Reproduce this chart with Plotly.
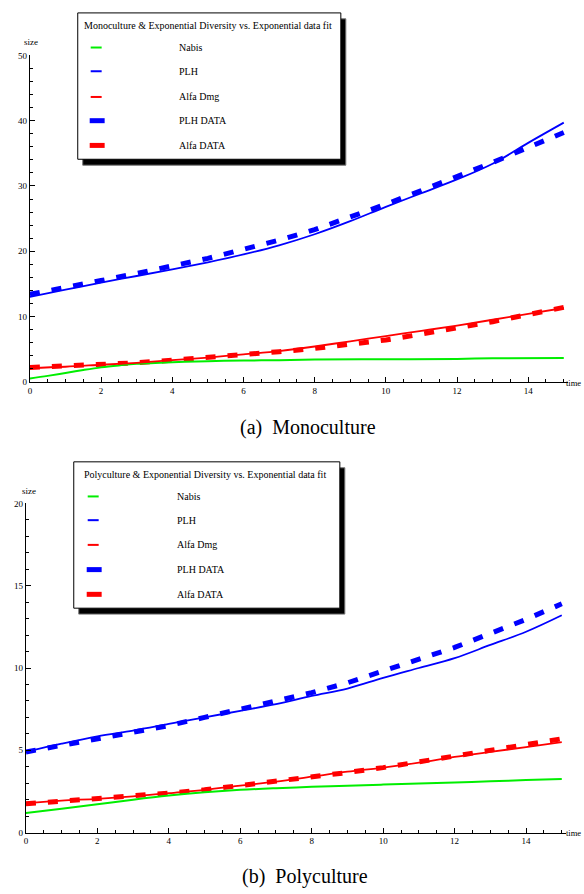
import plotly.graph_objects as go

W, H = 584, 894

# ---------------- data ----------------
t = list(range(16))

# (a) Monoculture
mono_nabis_t = [0, 0.5, 1, 1.5, 2, 2.5, 3, 4, 5, 6, 7, 8, 10, 12, 13, 15]
mono_nabis = [0.5, 0.9, 1.35, 1.8, 2.2, 2.5, 2.75, 3.0, 3.15, 3.25, 3.3, 3.4, 3.45, 3.5, 3.6, 3.65]
mono_plh_fit = [13.0, 14.1, 15.2, 16.2, 17.2, 18.3, 19.5, 20.9, 22.6, 24.6, 26.8, 28.9, 31.0, 33.4, 36.6, 39.7]
mono_alfa_fit = [2.1, 2.3, 2.6, 2.9, 3.3, 3.7, 4.2, 4.7, 5.4, 6.2, 7.0, 7.8, 8.6, 9.5, 10.4, 11.3]
mono_plh_data = [13.4, 14.4, 15.5, 16.6, 17.7, 18.9, 20.3, 21.7, 23.3, 25.2, 27.2, 29.3, 31.4, 33.6, 35.9, 38.2]
mono_alfa_data = [2.2, 2.4, 2.6, 2.9, 3.3, 3.7, 4.1, 4.6, 5.1, 5.7, 6.4, 7.3, 8.2, 9.2, 10.3, 11.4]

# (b) Polyculture
poly_nabis = [1.2, 1.45, 1.72, 2.0, 2.25, 2.45, 2.6, 2.7, 2.78, 2.85, 2.92, 2.99, 3.05, 3.12, 3.19, 3.26]
poly_plh_fit = [4.9, 5.4, 5.85, 6.2, 6.6, 7.0, 7.4, 7.8, 8.3, 8.75, 9.4, 10.0, 10.6, 11.4, 12.2, 13.2]
poly_alfa_fit = [1.8, 1.95, 2.05, 2.2, 2.4, 2.6, 2.85, 3.1, 3.4, 3.7, 3.95, 4.25, 4.6, 4.9, 5.2, 5.5]
poly_plh_data = [4.9, 5.3, 5.7, 6.1, 6.5, 7.0, 7.5, 8.0, 8.5, 9.1, 9.8, 10.5, 11.25, 12.1, 12.95, 13.9]
poly_alfa_data = [1.75, 1.9, 2.05, 2.2, 2.4, 2.6, 2.85, 3.1, 3.35, 3.65, 3.95, 4.3, 4.65, 5.0, 5.3, 5.7]

legend_names = ["Nabis", "PLH", "Alfa Dmg", "PLH DATA", "Alfa DATA"]
titles = ["Monoculture & Exponential Diversity vs. Exponential data fit",
          "Polyculture & Exponential Diversity vs. Exponential data fit"]
captions = ["(a)  Monoculture", "(b)  Polyculture"]
x_ticks = [0, 2, 4, 6, 8, 10, 12, 14]

GREEN = "#00ee00"
BLUE = "#0000ff"
RED = "#ff0000"
SERIF = "Liberation Serif, DejaVu Serif, Times New Roman, serif"

fig = go.Figure()

def add_panel(xa, ya, nabis_t, nabis, plh_fit, alfa_fit, plh_data, alfa_data):
    kw = dict(xaxis=xa, yaxis=ya, mode="lines", showlegend=False, hoverinfo="skip")
    fig.add_trace(go.Scatter(x=t, y=plh_data, line=dict(color=BLUE, width=5, dash="10px,12px"), **kw))
    fig.add_trace(go.Scatter(x=t, y=alfa_data, line=dict(color=RED, width=5, dash="10px,12px"), **kw))
    fig.add_trace(go.Scatter(x=nabis_t, y=nabis, line=dict(color=GREEN, width=2, shape="spline"), **kw))
    fig.add_trace(go.Scatter(x=t, y=plh_fit, line=dict(color=BLUE, width=1.8, shape="spline"), **kw))
    fig.add_trace(go.Scatter(x=t, y=alfa_fit, line=dict(color=RED, width=1.8, shape="spline"), **kw))

add_panel("x", "y", mono_nabis_t, mono_nabis, mono_plh_fit, mono_alfa_fit, mono_plh_data, mono_alfa_data)
add_panel("x2", "y2", t, poly_nabis, poly_plh_fit, poly_alfa_fit, poly_plh_data, poly_alfa_data)

def px(x):
    return x / W

def py(y):
    return 1 - y / H

tickfont = dict(family=SERIF, size=9, color="black")
axis_common = dict(showline=True, linecolor="black", linewidth=1, ticks="inside",
                   tickcolor="black", ticklen=5, showgrid=False, zeroline=False,
                   tickfont=tickfont)

fig.update_layout(
    width=W, height=H, autosize=False,
    margin=dict(l=0, r=0, t=0, b=0),
    paper_bgcolor="white", plot_bgcolor="white",
    xaxis=dict(domain=[px(28), px(568)], range=[0, 15.12], anchor="y",
               tickvals=x_ticks, minor=dict(dtick=0.5, ticklen=3, ticks="inside", tickcolor="black"),
               **axis_common),
    yaxis=dict(domain=[py(381), py(51)], range=[0, 50], anchor="x",
               dtick=10, minor=dict(dtick=2, ticklen=3, ticks="inside", tickcolor="black"),
               **axis_common),
    xaxis2=dict(domain=[px(24), px(566)], range=[0, 15.12], anchor="y2",
                tickvals=x_ticks, minor=dict(dtick=0.5, ticklen=3, ticks="inside", tickcolor="black"),
                **axis_common),
    yaxis2=dict(domain=[py(837), py(504)], range=[0, 20], anchor="x2",
                dtick=5, minor=dict(dtick=1, ticklen=3, ticks="inside", tickcolor="black"),
                **axis_common),
)

shapes = []
annotations = []

def legend_box(x0, y0, x1, y1, title, title_x, title_y, rows_y, sym_x0, sym_x1, dsym_x0, dsym_x1, text_x):
    # shadow
    shapes.append(dict(type="rect", xref="paper", yref="paper",
                       x0=px(x0 + 5), x1=px(x1 + 5), y0=py(y1 + 6), y1=py(y0 + 6),
                       fillcolor="black", line=dict(color="#777777", width=1), layer="above"))
    shapes.append(dict(type="rect", xref="paper", yref="paper",
                       x0=px(x0), x1=px(x1), y0=py(y1), y1=py(y0),
                       fillcolor="white", line=dict(color="black", width=1), layer="above"))
    annotations.append(dict(xref="paper", yref="paper", x=px(title_x), y=py(title_y),
                            text=title, showarrow=False, xanchor="left", yanchor="middle",
                            font=dict(family=SERIF, size=10, color="black")))
    colors = [GREEN, BLUE, RED, BLUE, RED]
    widths = [2, 2, 2, 5, 5]
    for i, name in enumerate(legend_names):
        yy = rows_y[i]
        if i < 3:
            a, b = sym_x0, sym_x1
        else:
            a, b = dsym_x0, dsym_x1
        shapes.append(dict(type="line", xref="paper", yref="paper",
                           x0=px(a), x1=px(b), y0=py(yy), y1=py(yy),
                           line=dict(color=colors[i], width=widths[i]), layer="above"))
        annotations.append(dict(xref="paper", yref="paper", x=px(text_x), y=py(yy),
                                text=name, showarrow=False, xanchor="left", yanchor="middle",
                                font=dict(family=SERIF, size=10, color="black")))

legend_box(76, 8, 340, 156, titles[0], 80, 21, [43, 67, 93, 117, 142], 89, 100, 88, 103, 176)
legend_box(72, 462, 339, 610, titles[1], 80, 475, [497, 521, 546, 571, 596], 86, 97, 85, 100, 174)

# axis labels
for (sx, sy, ty) in [(29, 37, 382), (27, 491, 837)]:
    annotations.append(dict(xref="paper", yref="paper", x=px(sx), y=py(sy), text="size",
                            showarrow=False, xanchor="center", yanchor="middle",
                            font=dict(family=SERIF, size=9, color="black")))
    annotations.append(dict(xref="paper", yref="paper", x=1.0, y=py(ty), text="time",
                            showarrow=False, xanchor="right", yanchor="middle", xshift=-1,
                            font=dict(family=SERIF, size=8.5, color="black")))

# captions
annotations.append(dict(xref="paper", yref="paper", x=px(307), y=py(427), text=captions[0],
                        showarrow=False, xanchor="center", yanchor="middle",
                        font=dict(family=SERIF, size=20, color="black")))
annotations.append(dict(xref="paper", yref="paper", x=px(304), y=py(881), text=captions[1],
                        showarrow=False, xanchor="center", yanchor="middle",
                        font=dict(family=SERIF, size=20, color="black")))

fig.update_layout(shapes=shapes, annotations=annotations)

fig.write_html("out.html", config={"displayModeBar": False},
               post_script="document.body.style.margin='0';document.body.style.padding='0';")
